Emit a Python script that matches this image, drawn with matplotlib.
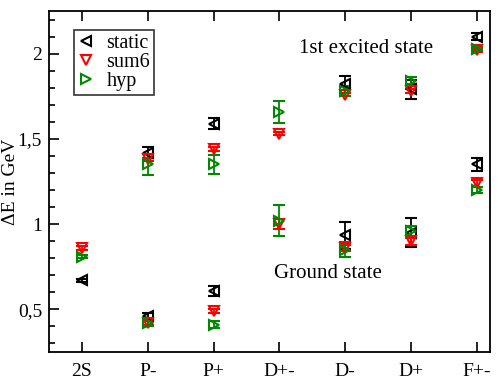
import numpy as np
import matplotlib
matplotlib.use("Agg")
import matplotlib.pyplot as plt
from matplotlib.ticker import FixedLocator, MultipleLocator

plt.rcParams['font.family'] = ['Liberation Serif', 'DejaVu Serif']
plt.rcParams['mathtext.fontset'] = 'stix'

categories = ["2S", "P-", "P+", "D+-", "D-", "D+", "F+-"]
nan = np.nan

static_ground = [0.67, 0.46, 0.61, nan, 0.935, 0.95, 1.35]
static_ground_err = [0.01, 0.02, 0.03, 0.0, 0.08, 0.085, 0.04]
static_excited = [nan, 1.42, 1.59, nan, 1.82, 1.79, 2.10]
static_excited_err = [0.0, 0.03, 0.03, 0.0, 0.05, 0.055, 0.02]

sum6_ground = [0.86, 0.42, 0.49, 1.00, 0.86, 0.90, 1.24]
sum6_ground_err = [0.01, 0.01, 0.01, 0.03, 0.02, 0.02, 0.02]
sum6_excited = [nan, 1.38, 1.44, 1.53, 1.76, 1.78, 2.02]
sum6_excited_err = [0.0, 0.01, 0.01, 0.01, 0.01, 0.01, 0.01]

hyp_ground = [0.81, 0.42, 0.41, 1.02, 0.85, 0.96, 1.20]
hyp_ground_err = [0.01, 0.02, 0.02, 0.09, 0.045, 0.03, 0.02]
hyp_excited = [nan, 1.35, 1.35, 1.66, 1.78, 1.84, 2.03]
hyp_excited_err = [0.0, 0.06, 0.055, 0.065, 0.03, 0.02, 0.01]

yticks = [0.5, 1.0, 1.5, 2.0]
ytick_labels = ["0,5", "1", "1,5", "2"]

fig = plt.figure(figsize=(4.98, 3.85), dpi=100)
ax = fig.add_axes([49/498, 33/385, 441/498, 341/385])

x = np.arange(1, len(categories) + 1)
series = [
    ("static", "black", "<", static_ground, static_ground_err, static_excited, static_excited_err),
    ("sum6", "red", "v", sum6_ground, sum6_ground_err, sum6_excited, sum6_excited_err),
    ("hyp", "#008800", ">", hyp_ground, hyp_ground_err, hyp_excited, hyp_excited_err),
]
handles = []
for name, col, mk, g, ge, e, ee in series:
    for vals, errs in ((g, ge), (e, ee)):
        ax.errorbar(x, vals, yerr=errs, fmt=mk, color=col, mfc='none', mec=col,
                    mew=1.5, ms=7.5, ecolor=col, elinewidth=1.3, capsize=4.5, capthick=1.3,
                    linestyle='none')
    handles.append(ax.plot([], [], mk, color=col, mfc='none', mew=1.5, ms=7.5, label=name)[0])

ax.set_xlim(0.5, 7.2)
ax.set_ylim(0.25, 2.25)
ax.set_xticks(x)
ax.set_xticklabels(categories, fontsize=14)
ax.yaxis.set_major_locator(FixedLocator(yticks))
ax.set_yticklabels(ytick_labels, fontsize=14)
ax.yaxis.set_minor_locator(MultipleLocator(0.1))
ax.tick_params(axis='x', which='both', direction='in', top=True, bottom=True, length=7, width=1.2, pad=8)
ax.tick_params(axis='y', which='major', direction='in', left=True, right=False, length=7, width=1.2, pad=5)
ax.tick_params(axis='y', which='minor', direction='in', left=True, right=False, length=4, width=1.2)
for s in ax.spines.values():
    s.set_linewidth(1.3)

ax.set_ylabel("ΔE in GeV", fontsize=14)
ax.yaxis.set_label_coords(-0.068, 0.5)

ax.text(0.568, 0.878, "1st excited state", transform=ax.transAxes, fontsize=15)
ax.text(0.510, 0.218, "Ground state", transform=ax.transAxes, fontsize=15)

leg = ax.legend(handles=handles, loc='upper left', bbox_to_anchor=(0.057, 0.945),
                fontsize=14.5, frameon=True, fancybox=False, handlelength=0.8,
                handletextpad=0.6, borderpad=0.2, labelspacing=0.0, borderaxespad=0)
leg.get_frame().set_edgecolor('black')
leg.get_frame().set_linewidth(1.2)

fig.savefig("out.png", dpi=100)
